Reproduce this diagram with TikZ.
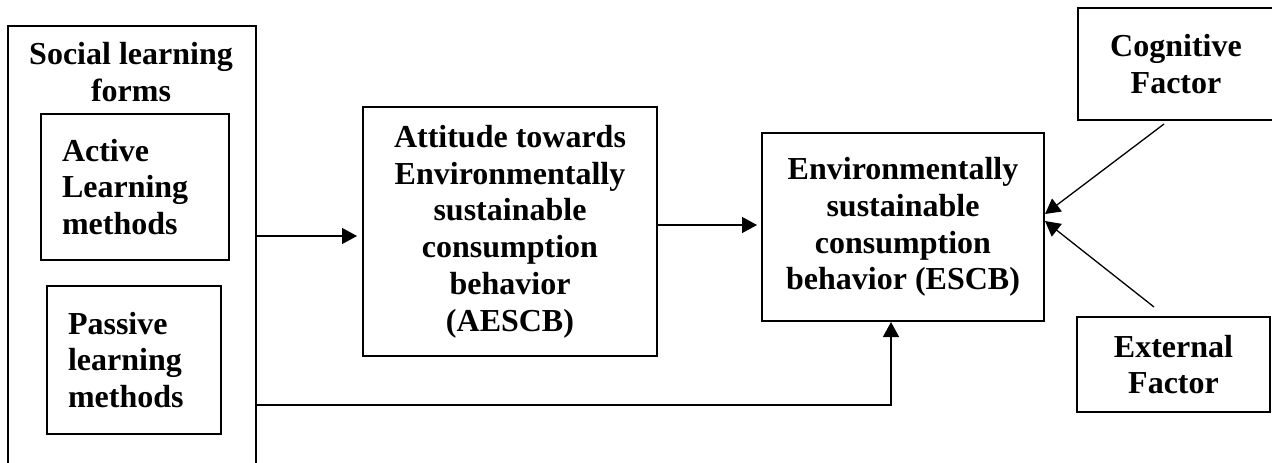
\documentclass[tikz,border=0pt]{standalone}
\usepackage{fontspec}
\setmainfont{Liberation Serif}
\usetikzlibrary{arrows.meta,calc}

\begin{document}
\begin{tikzpicture}[x=0.5pt,y=-0.5pt,
    box/.style={draw, line width=1pt, inner sep=0pt, align=center,
        font=\fontsize{16}{18.4}\selectfont\bfseries},
    sidebox/.style={box, align=left, inner xsep=10.5pt},
    arr/.style={line width=0.65pt, -{Triangle[length=7.5pt,width=8pt]}}]
    \useasboundingbox (0,0) rectangle (1272,462);
    \clip (0,0) rectangle (1272,462);

    % Social learning forms (outer frame)
    \node[box, anchor=north west, minimum width=124pt, minimum height=237.5pt] (social) at (7,25) {};
    \node[inner sep=0pt, align=center, anchor=north,
        font=\fontsize{16}{18.4}\selectfont\bfseries] (socialtitle) at (131,42) {Social learning\\forms};

    % Active and passive methods
    \node[sidebox, text width=73pt, minimum height=73pt] (active) at (135,187) {Active\\Learning\\methods};
    \node[sidebox, text width=66pt, minimum height=74pt] (passive) at (134,360) {Passive\\learning\\methods};

    % Attitude
    \node[box, minimum width=147pt, minimum height=124.5pt] (aescb) at (510,231.5)
        {Attitude towards\\Environmentally\\sustainable\\consumption\\behavior\\(AESCB)};

    % Behavior
    \node[box, minimum width=141pt, minimum height=94pt] (escb) at (903,227)
        {Environmentally\\sustainable\\consumption\\behavior (ESCB)};

    % Factors
    \node[box, minimum width=98pt, minimum height=56pt] (cognitive) at (1176,64) {Cognitive\\Factor};
    \node[box, minimum width=96.5pt, minimum height=47.5pt] (external) at (1173.5,364.5) {External\\Factor};

    % Connecting lines
    \coordinate (s1) at (257,236);
    \coordinate (s2) at (257,405);
    \coordinate (b2) at (891,405);
    \draw[arr, shorten >=2.5pt] (s1) -- (aescb.west |- s1);
    \draw[arr, shorten >=2pt] (aescb.east |- 0,225) -- (escb.west |- 0,225);
    \draw[arr] (s2) -- (b2) -- (b2 |- escb.south);
    \draw[arr] ([xshift=-6pt,yshift=-1.5pt]cognitive.south) -- ([yshift=6.5pt]escb.east);
    \draw[arr] ([xshift=-9.75pt,yshift=4.5pt]external.north) -- ([yshift=3pt]escb.east);
\end{tikzpicture}
\end{document}
